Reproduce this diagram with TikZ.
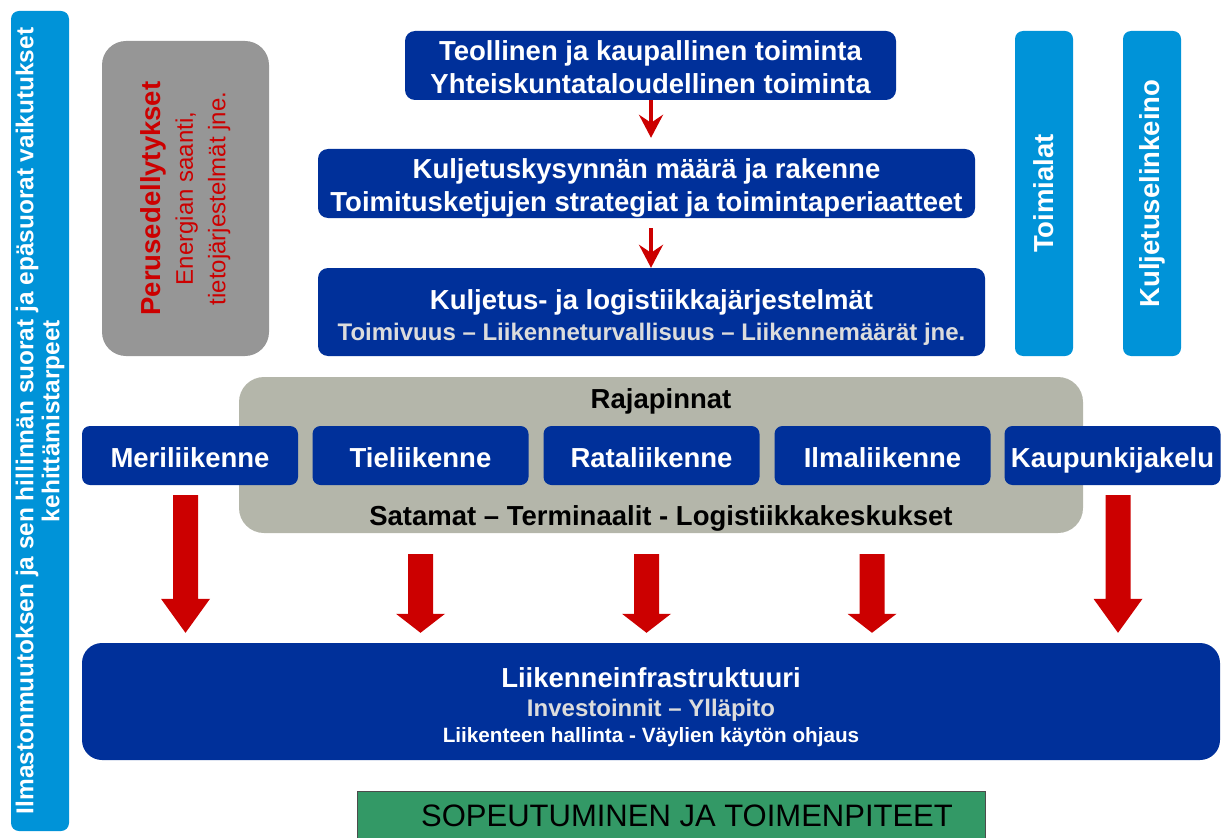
\documentclass[tikz,border=0pt]{standalone}
\usepackage{fontspec}
\setmainfont{Liberation Sans}
\usetikzlibrary{arrows.meta,calc}

\definecolor{navy}{HTML}{00309A}
\definecolor{sky}{HTML}{0093D8}
\definecolor{slate}{HTML}{969696}
\definecolor{putty}{HTML}{B4B6AA}
\definecolor{signal}{HTML}{CC0000}
\definecolor{leaf}{HTML}{339966}
\definecolor{mist}{HTML}{DCDCDC}

\newcommand\bigfont{\bfseries\fontsize{27.5}{33}\selectfont}
\newcommand\midfont{\bfseries\fontsize{24}{32}\selectfont}

% block arrow pointing down: #1 x, #2 source node, #3 gap below source,
% #4 target node, #5 head length
\newcommand\downblock[5]{%
  \fill[signal] let \p1=(#2.south), \p2=(#4.north) in
    (#1pt-12.5pt,\y1-#3pt) -- (#1pt+12.5pt,\y1-#3pt)
    -- (#1pt+12.5pt,\y2+10pt+#5pt) -- (#1pt+24.5pt,\y2+10pt+#5pt)
    -- (#1pt,\y2+10pt)
    -- (#1pt-24.5pt,\y2+10pt+#5pt) -- (#1pt-12.5pt,\y2+10pt+#5pt) -- cycle;}

\begin{document}
\begin{tikzpicture}[x=1pt,y=-1pt,
  navybox/.style={fill=navy, rounded corners=10pt, inner sep=0pt},
  boxtext/.style={text=white, font=\bigfont, align=center, inner sep=0pt},
  modebox/.style={fill=navy, rounded corners=8pt, text=white, font=\bigfont,
    minimum width=216pt, minimum height=59pt, inner sep=0pt,
    text height=23pt, text depth=0pt},
  skybar/.style={fill=sky, rounded corners=8pt, text=white, rotate=90,
    inner sep=0pt, align=center},
  smallarrow/.style={draw=signal, line width=4pt,
    -{Stealth[length=23pt,width=24pt,inset=8pt]}},
]
\useasboundingbox (0,0) rectangle (1222,837);

% left vertical band
\node[skybar, minimum width=820pt, minimum height=58pt,
  font=\bfseries\fontsize{24.4}{26}\selectfont] (climate) at (40,421)
  {Ilmastonmuutoksen ja sen hillinnän suorat ja epäsuorat vaikutukset\\kehittämistarpeet};

% basic prerequisites
\node[fill=slate, rounded corners=24pt, rotate=90, minimum width=315pt,
  minimum height=167pt, inner sep=0pt, align=center, text=signal,
  font=\fontsize{24}{32.5}\selectfont] (basis) at (185.5,198.5)
  {{\bigfont Perusedellytykset}\\
   Energian saanti,\\
   tietojärjestelmät jne.};

% right vertical bars
\node[skybar, minimum width=325pt, minimum height=58pt, font=\bigfont] (sectors) at (1044,193.5) {Toimialat};
\node[skybar, minimum width=325pt, minimum height=58pt, font=\bigfont] (carriers) at (1152,193.5) {Kuljetuselinkeino};

% demand chain
\node[navybox, minimum width=491pt, minimum height=69pt] (industry) at (650.5,65.5) {};
\node[boxtext] (industrytext) at (650.5,67.5)
  {Teollinen ja kaupallinen toiminta\\Yhteiskuntataloudellinen toiminta};
\node[navybox, minimum width=657pt, minimum height=69pt] (demand) at (646.5,183.5) {};
\node[boxtext] (demandtext) at (646.5,187.5)
  {Kuljetuskysynnän määrä ja rakenne\\Toimitusketjujen strategiat ja toimintaperiaatteet};
\node[navybox, minimum width=667pt, minimum height=88pt] (logistics) at (651.5,312) {};
\node[boxtext] (logisticstext) at (651.5,317.5)
  {Kuljetus- ja logistiikkajärjestelmät\\[-2pt]
   {\midfont\color{mist}Toimivuus – Liikenneturvallisuus – Liikennemäärät jne.}};

\draw[smallarrow, shorten >=11pt] (industry.south -| 651,0) -- (demand.north -| 651,0);
\draw[smallarrow, shorten <=10pt] (demand.south -| 651,0) -- (logistics.north -| 651,0);

% interfaces
\node[fill=putty, rounded corners=25pt, minimum width=844pt, minimum height=156pt,
  inner sep=0pt] (interfaces) at (661,455) {};
\node[font=\bigfont, inner sep=0pt] (iftop) at (661,401) {Rajapinnat};
\node[font=\bigfont, inner sep=0pt] (ifbottom) at (661,518) {Satamat – Terminaalit - Logistiikkakeskukset};

% transport modes
\node[modebox] (sea)   at (190,455.5)    {Meriliikenne};
\node[modebox] (road)  at (420.5,455.5)  {Tieliikenne};
\node[modebox] (rail)  at (651.5,455.5)  {Rataliikenne};
\node[modebox] (air)   at (882.5,455.5)  {Ilmaliikenne};
\node[modebox] (urban) at (1112.5,455.5) {Kaupunkijakelu};

% infrastructure
\node[navybox, rounded corners=20pt, minimum width=1138pt, minimum height=117pt] (infra) at (651,701.5) {};
\node[boxtext] (infratext) at (651,707)
  {Liikenneinfrastruktuuri\\[-4pt]
   {\midfont\color{mist}Investoinnit – Ylläpito}\\[-7pt]
   {\bfseries\fontsize{20.7}{26}\selectfont Liikenteen hallinta - Väylien käytön ohjaus}};

% arrows into infrastructure
\downblock{185.5}{sea}{10}{infra}{34}
\downblock{420.5}{interfaces}{21}{infra}{19}
\downblock{646.5}{interfaces}{21}{infra}{19}
\downblock{872}{interfaces}{21}{infra}{19}
\downblock{1118}{urban}{10}{infra}{34}

% adaptation
\node[fill=leaf, draw=black!70, line width=0.8pt, minimum width=628pt, minimum height=50pt,
  inner sep=0pt, font=\fontsize{31}{36}\selectfont] (adapt) at (671,816)
  {\hspace*{32pt}SOPEUTUMINEN JA TOIMENPITEET};
\end{tikzpicture}
\end{document}
